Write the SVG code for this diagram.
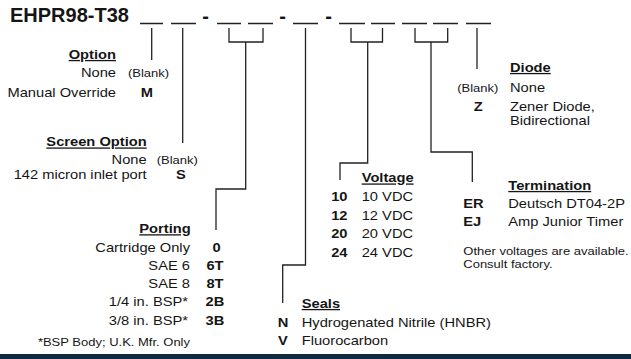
<svg xmlns="http://www.w3.org/2000/svg" width="631" height="359" viewBox="0 0 631 359">
<style>
text{font-family:"Liberation Sans",Arial,sans-serif;fill:#151515;font-size:13px}
.b{font-weight:bold}
.h{font-weight:bold;text-decoration:underline}
.s{font-size:11.5px}
.e{text-anchor:end}
.m{text-anchor:middle}
.t{font-size:20px;font-weight:bold}
.blank{stroke:#222;stroke-width:1.5;fill:none}
.conn{stroke:#222;stroke-width:1.3;fill:none}
</style>
<rect width="631" height="359" fill="#fff"/>
<g id="title">
<text class="t" x="10" y="21.5">EHPR98-T38</text>
<text class="t m" x="205.5" y="22.5">-</text>
<text class="t m" x="282.5" y="22.5">-</text>
<text class="t m" x="328.5" y="22.5">-</text>
<path class="blank" d="M140,23.5H163M171,23.5H196M217,23.5H241M248,23.5H273M293,23.5H318M339,23.5H365M371,23.5H395M402,23.5H427M433,23.5H458M466,23.5H491"/>
</g>
<g id="connectors" class="conn">
<path d="M151.7,28V60"/>
<path d="M182.7,28V143"/>
<path d="M229,28V42H263V28M245.7,42V189H216V230"/>
<path d="M305.5,28V265H282.7V303"/>
<path d="M351,28V42H382.5V28M367.7,42V163H340V180"/>
<path d="M415,28V42H447.7V28M431,42V152H472.3V182"/>
<path d="M477,28V69"/>
</g>
<g transform="scale(1.13,1)">
<g id="option">
<text class="h e" x="102.65" y="59">Option</text>
<text class="e" x="102.65" y="77.5">None</text>
<text class="s" x="113.27" y="77.5">(Blank)</text>
<text class="e" x="102.65" y="96.7">Manual Override</text>
<text class="b m" x="130.09" y="96.7">M</text>
</g>
<g id="screen-option">
<text class="h e" x="129.82" y="146.5">Screen Option</text>
<text class="e" x="129.82" y="164.5">None</text>
<text class="s" x="138.67" y="164.5">(Blank)</text>
<text class="e" x="129.82" y="179.5">142 micron inlet port</text>
<text class="b m" x="160.18" y="179.5">S</text>
</g>
<g id="porting">
<text class="h e" x="168.76" y="233.3">Porting</text>
<text class="e" x="168.14" y="252.3">Cartridge Only</text>
<text class="b m" x="191.6" y="252.3">0</text>
<text class="e" x="168.14" y="270">SAE 6</text>
<text class="b m" x="190.27" y="270">6T</text>
<text class="e" x="168.14" y="288">SAE 8</text>
<text class="b m" x="190.27" y="288">8T</text>
<text class="e" x="166.37" y="306">1/4 in. BSP*</text>
<text class="b m" x="190.27" y="306">2B</text>
<text class="e" x="166.37" y="325">3/8 in. BSP*</text>
<text class="b m" x="190.27" y="325">3B</text>
<text class="s e" x="168.14" y="346">*BSP Body; U.K. Mfr. Only</text>
</g>
<g id="seals">
<text class="h" x="267" y="308">Seals</text>
<text class="b m" x="250.44" y="327">N</text>
<text x="267" y="327">Hydrogenated Nitrile (HNBR)</text>
<text class="b m" x="250.44" y="345">V</text>
<text x="267" y="345">Fluorocarbon</text>
</g>
<g id="voltage">
<text class="h" x="320.1" y="182.5">Voltage</text>
<text class="b e" x="307.5" y="201.5">10</text>
<text x="320.1" y="201.5">10 VDC</text>
<text class="b e" x="307.5" y="220">12</text>
<text x="320.1" y="220">12 VDC</text>
<text class="b e" x="307.5" y="238.5">20</text>
<text x="320.1" y="238.5">20 VDC</text>
<text class="b e" x="307.5" y="257">24</text>
<text x="320.1" y="257">24 VDC</text>
</g>
<g id="termination">
<text class="h" x="449.8" y="190">Termination</text>
<text class="b" x="410" y="208">ER</text>
<text x="449.8" y="208">Deutsch DT04-2P</text>
<text class="b" x="410" y="226">EJ</text>
<text x="449.8" y="226">Amp Junior Timer</text>
<text class="s" x="410" y="255">Other voltages are available.</text>
<text class="s" x="410" y="268">Consult factory.</text>
</g>
<g id="diode">
<text class="h" x="451.3" y="72">Diode</text>
<text class="s e" x="441" y="92">(Blank)</text>
<text x="451.3" y="92">None</text>
<text class="b m" x="423.3" y="111">Z</text>
<text x="451.3" y="111">Zener Diode,</text>
<text x="451.3" y="125">Bidirectional</text>
</g>
</g>
<rect x="0" y="354" width="631" height="5" fill="#0d2c40"/>
</svg>
